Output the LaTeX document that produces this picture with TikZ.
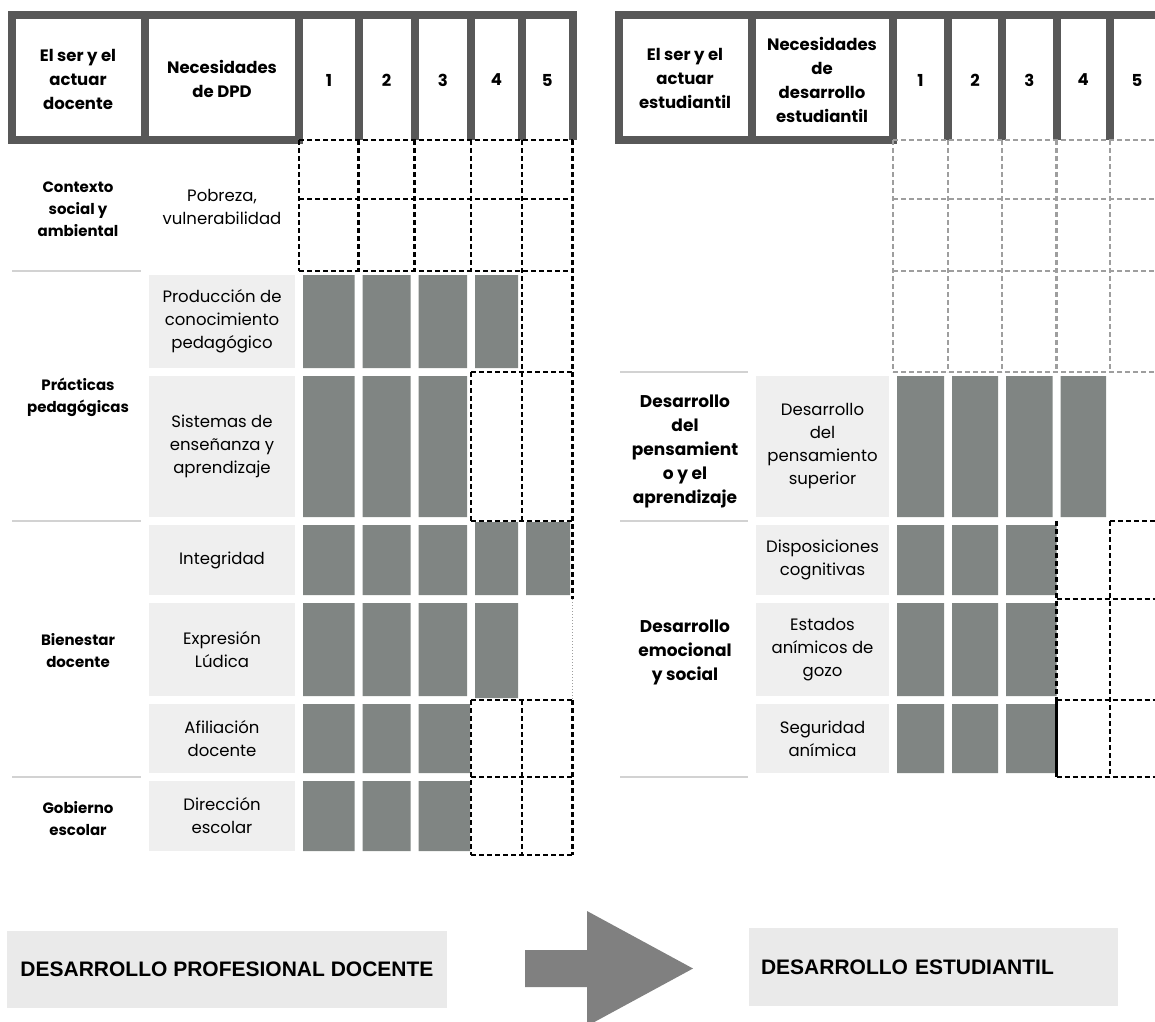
\documentclass[tikz,border=0pt]{standalone}
\usepackage{fontspec}
\setmainfont{Poppins}
\newfontfamily\arial{Liberation Sans}
\usepackage{tikz}

\definecolor{marco}{RGB}{88,88,88}
\definecolor{barra}{RGB}{128,133,131}
\definecolor{fondo}{RGB}{239,239,239}
\definecolor{linea}{RGB}{210,210,210}
\definecolor{caja}{RGB}{234,234,234}
\definecolor{flecha}{RGB}{128,128,128}
\definecolor{rejilla}{RGB}{158,158,158}

\tikzset{
	marcohdr/.style={draw=marco, line width=8pt},
	hueco/.style={draw=black, line width=2.3pt, dash pattern=on 5pt off 3pt},
	huecogris/.style={hueco, draw=rejilla},
	separador/.style={draw=linea, line width=1.5pt},
	etiqueta/.style={fill=fondo, inner sep=0pt, align=center, font=\fontsize{16.5}{23}\selectfont},
	titulo/.style={align=center, font=\fontsize{16.5}{24}\selectfont\bfseries},
	grupo/.style={align=center, font=\fontsize{15}{22}\selectfont\bfseries},
	grupogrande/.style={align=center, font=\fontsize{17}{24}\selectfont\bfseries},
	rotulo/.style={fill=caja, inner sep=0pt, font={\arial\bfseries\fontsize{21}{25}\selectfont}}
}

\begin{document}
\begin{tikzpicture}[x=1pt, y=-1pt]
	\useasboundingbox (0,0) rectangle (1155,1021);

	% encabezado docente
	\draw[marcohdr] (11.5,15) rectangle (299,140);
	\draw[marcohdr] (145,15) -- (145,140);
	\draw[marcohdr, line cap=rect] (299,15) -- (572.5,15);
	\draw[marcohdr] (358.5,15) -- (358.5,140) (414.5,15) -- (414.5,140) (471,15) -- (471,140)
		(522,15) -- (522,140) (572.5,15) -- (572.5,140);

	\node[titulo] (serdoc) at (78,79)   {El ser y el\\actuar\\docente};
	\node[titulo] (necdpd) at (222,79)  {Necesidades\\de DPD};
	\node[titulo] (d1) at (329,80)     {1};
	\node[titulo] (d2) at (386.5,80)   {2};
	\node[titulo] (d3) at (442.75,80)  {3};
	\node[titulo] (d4) at (496.5,80)   {4};
	\node[titulo] (d5) at (547.25,80)  {5};

	% encabezado estudiantil
	\draw[marcohdr] (619,15) rectangle (893,140);
	\draw[marcohdr] (751.5,15) -- (751.5,140);
	\draw[marcohdr] (893,15) -- (1160,15);
	\draw[marcohdr] (948,15) -- (948,140) (1002,15) -- (1002,140) (1056.5,15) -- (1056.5,140)
		(1110,15) -- (1110,140);

	\node[titulo] (serest) at (685,78)    {El ser y el\\actuar\\estudiantil};
	\node[titulo] (necest) at (822,79.5)  {Necesidades\\de\\desarrollo\\estudiantil};
	\node[titulo] (e1) at (920.5,80)   {1};
	\node[titulo] (e2) at (975,80)     {2};
	\node[titulo] (e3) at (1029.25,80) {3};
	\node[titulo] (e4) at (1083.25,80) {4};
	\node[titulo] (e5) at (1137,80)    {5};

	% separadores de la primera columna
	\draw[separador] (12,271) -- (141,271) (12,521) -- (141,521) (12,777) -- (141,777);
	\draw[separador] (620,372) -- (748,372) (620,521) -- (748,521) (620,777) -- (748,777);

	\node[grupo] (contexto)  at (78,209)  {Contexto\\social y\\ambiental};
	\node[grupo] (practicas) at (78,397)  {Prácticas\\pedagógicas};
	\node[grupo] (bienestar) at (78,651)  {Bienestar\\docente};
	\node[grupo] (gobierno)  at (78,819)  {Gobierno\\escolar};

	\node[grupogrande] (pensamiento) at (685,451) {Desarrollo\\del\\pensamient\\o y el\\aprendizaje};
	\node[grupogrande] (emocional)   at (685,652) {Desarrollo\\emocional\\y social};

	% necesidades de DPD
	\node[etiqueta, fill=none] (pobreza) at (222,207) {Pobreza,\\vulnerabilidad};
	\node[etiqueta, minimum width=146, minimum height=93]  (produccion) at (222,321.5) {Producción de\\conocimiento\\pedagógico};
	\node[etiqueta, minimum width=146, minimum height=141] (sistemas)   at (222,446.5) {Sistemas de\\enseñanza y\\aprendizaje};
	\node[etiqueta, minimum width=146, minimum height=70]  (integridad) at (222,560)   {Integridad};
	\node[etiqueta, minimum width=146, minimum height=93]  (expresion)  at (222,649.5) {Expresión\\Lúdica};
	\node[etiqueta, minimum width=146, minimum height=69]  (afiliacion) at (222,738.5) {Afiliación\\docente};
	\node[etiqueta, minimum width=146, minimum height=70]  (direccion)  at (222,816)   {Dirección\\escolar};

	% necesidades de desarrollo estudiantil
	\node[etiqueta, minimum width=133, minimum height=141] (superior)      at (822.5,446.5) {Desarrollo\\del\\pensamiento\\superior};
	\node[etiqueta, minimum width=133, minimum height=70]  (disposiciones) at (822.5,560)   {Disposiciones\\cognitivas};
	\node[etiqueta, minimum width=133, minimum height=93]  (estados)       at (822.5,649.5) {Estados\\anímicos de\\gozo};
	\node[etiqueta, minimum width=133, minimum height=69]  (seguridad)     at (822.5,738.5) {Seguridad\\anímica};

	% niveles docentes
	\fill[barra] (303,275) rectangle (354.5,368) (362.5,275) rectangle (410.5,368)
		(418.5,275) rectangle (467,368) (475,275) rectangle (518,368);
	\fill[barra] (303,376) rectangle (354.5,517) (362.5,376) rectangle (410.5,517)
		(418.5,376) rectangle (467,517);
	\fill[barra] (303,525) rectangle (354.5,595) (362.5,525) rectangle (410.5,595)
		(418.5,525) rectangle (467,595) (475,522) rectangle (518,595) (526,522) rectangle (570,595);
	\fill[barra] (303,603) rectangle (354.5,696) (362.5,603) rectangle (410.5,696)
		(418.5,603) rectangle (467,696) (475,603) rectangle (518,698);
	\fill[barra] (303,704) rectangle (354.5,773) (362.5,704) rectangle (410.5,773)
		(418.5,704) rectangle (470,773);
	\fill[barra] (303,781) rectangle (354.5,851) (362.5,781) rectangle (410.5,851)
		(418.5,781) rectangle (470,851);

	% niveles estudiantiles
	\fill[barra] (897,376) rectangle (944,517) (952,376) rectangle (998,517)
		(1006,376) rectangle (1052.5,517) (1060.5,376) rectangle (1106,517);
	\fill[barra] (897,525) rectangle (944,595) (952,525) rectangle (998,595)
		(1006,525) rectangle (1056.5,595);
	\fill[barra] (897,603) rectangle (944,696) (952,603) rectangle (998,696)
		(1006,603) rectangle (1056.5,696);
	\fill[barra] (897,704) rectangle (944,773) (952,704) rectangle (998,773)
		(1006,704) rectangle (1056.5,773);

	% casillas vacias docentes
	\draw[hueco] (299,140) -- (572.5,140) (299,199) -- (572.5,199) (299,271) -- (572.5,271);
	\draw[hueco] (299,140) -- (299,271) (358.5,140) -- (358.5,271) (414.5,140) -- (414.5,271);
	\draw[hueco] (471,140) -- (471,271) (471,372) -- (471,521) (471,700) -- (471,855);
	\draw[hueco] (522,140) -- (522,521) (522,700) -- (522,855);
	\draw[hueco] (572.5,140) -- (572.5,599) (572.5,700) -- (572.5,855);
	\draw[rejilla, line width=1pt, dotted] (572.5,599) -- (572.5,700);
	\draw[hueco] (471,372) -- (572.5,372) (471,521) -- (572.5,521) (471,700) -- (572.5,700)
		(471,777) -- (572.5,777) (471,855) -- (572.5,855);

	% casillas vacias estudiantiles
	\draw[huecogris] (893,140) -- (1155,140) (893,199) -- (1155,199) (893,271) -- (1155,271)
		(893,372) -- (1155,372);
	\draw[huecogris] (893,140) -- (893,372) (948,140) -- (948,372) (1002,140) -- (1002,372)
		(1056.5,140) -- (1056.5,372) (1110,140) -- (1110,372);
	\draw[hueco] (1056.5,521) -- (1056.5,700) (1110,521) -- (1110,777);
	\draw[black, line width=2.3pt] (1056.5,700) -- (1056.5,777);
	\draw[hueco] (1110,521) -- (1155,521) (1056.5,599) -- (1155,599) (1056.5,700) -- (1155,700)
		(1056.5,777) -- (1155,777);

	% de un desarrollo al otro
	\node[rotulo, minimum width=440, minimum height=77] (dpd) at (227,969.5) {DESARROLLO PROFESIONAL DOCENTE};
	\node[rotulo, minimum height=78, text width=345, inner xsep=12, align=left] (de) at (933.5,967) {DESARROLLO ESTUDIANTIL};
	\fill[flecha] (525,950) -- (587,950) -- (587,911) -- (693,968.5) -- (587,1026) -- (587,987) -- (525,987) -- cycle;

\end{tikzpicture}
\end{document}
